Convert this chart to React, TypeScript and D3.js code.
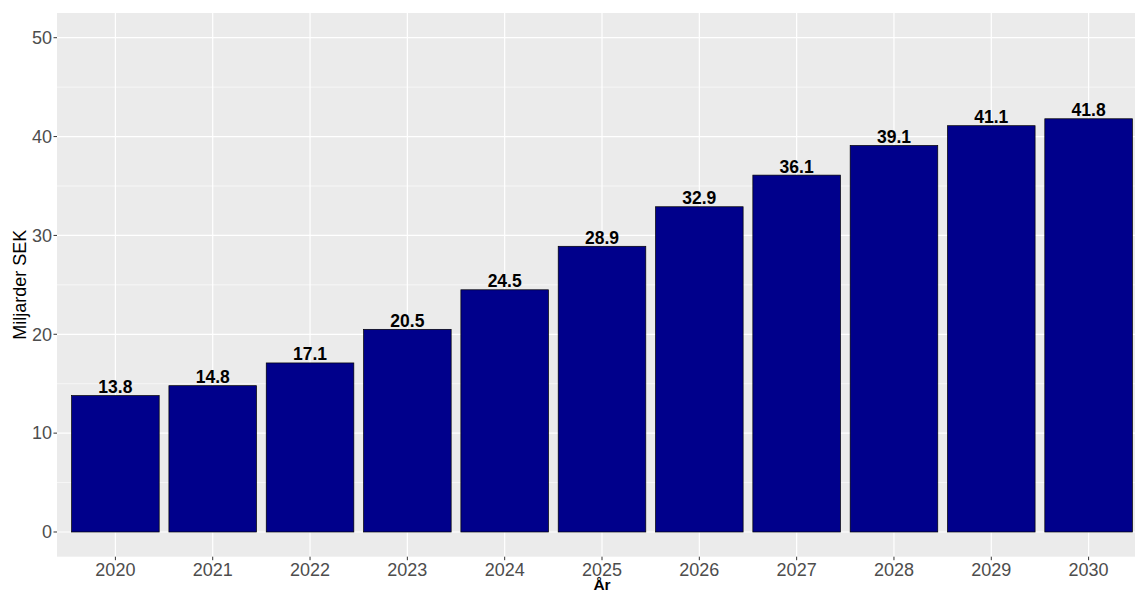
import React from "react";
import * as d3 from "d3";

const years = ["2020", "2021", "2022", "2023", "2024", "2025", "2026", "2027", "2028", "2029", "2030"];
const values = [13.8, 14.8, 17.1, 20.5, 24.5, 28.9, 32.9, 36.1, 39.1, 41.1, 41.8];
const yTicks = [0, 10, 20, 30, 40, 50];
const yMinor = [5, 15, 25, 35, 45];

const W = 1135;
const H = 592;
const panel = { left: 57, right: 1147, top: 13, bottom: 556.7 };

export default function App() {
  const x = d3.scaleLinear().domain([0.4, years.length + 0.6]).range([panel.left, panel.right]);
  const y = d3.scaleLinear().domain([-2.5, 52.5]).range([panel.bottom, panel.top]);
  const bw = x(1.45) - x(1);
  const font = "Liberation Sans, Arial, Helvetica, sans-serif";
  return (
    <svg width={W} height={H} style={{ position: "absolute", left: 0, top: 0 }} fontFamily={font}>
      <rect x={0} y={0} width={W} height={H} fill="#FFFFFF" />
      <rect x={panel.left} y={panel.top} width={panel.right - panel.left} height={panel.bottom - panel.top} fill="#EBEBEB" />
      {yMinor.map((t) => (
        <line key={"mn" + t} x1={panel.left} x2={panel.right} y1={y(t)} y2={y(t)} stroke="#FFFFFF" strokeWidth={0.6} />
      ))}
      {yTicks.map((t) => (
        <line key={"mj" + t} x1={panel.left} x2={panel.right} y1={y(t)} y2={y(t)} stroke="#FFFFFF" strokeWidth={1.2} />
      ))}
      {years.map((yr, i) => (
        <line key={"vx" + yr} x1={x(i + 1)} x2={x(i + 1)} y1={panel.top} y2={panel.bottom} stroke="#FFFFFF" strokeWidth={1.2} />
      ))}
      {values.map((v, i) => (
        <rect
          key={"b" + i}
          x={x(i + 1) - bw}
          y={y(v)}
          width={2 * bw}
          height={y(0) - y(v)}
          fill="#00008B"
          stroke="#000000"
          strokeWidth={0.7}
        />
      ))}
      {values.map((v, i) => (
        <text
          key={"l" + i}
          x={x(i + 1)}
          y={y(v) - 2.5}
          textAnchor="middle"
          fontSize={17.5}
          fontWeight="bold"
          fill="#000000"
        >
          {v.toFixed(1)}
        </text>
      ))}
      {yTicks.map((t) => (
        <g key={"yt" + t}>
          <line x1={panel.left - 3.5} x2={panel.left} y1={y(t)} y2={y(t)} stroke="#333333" strokeWidth={1} />
          <text x={panel.left - 5} y={y(t)} dy="0.35em" textAnchor="end" fontSize={18} fill="#4D4D4D">
            {t}
          </text>
        </g>
      ))}
      {years.map((yr, i) => (
        <g key={"xt" + yr}>
          <line x1={x(i + 1)} x2={x(i + 1)} y1={panel.bottom} y2={panel.bottom + 3.5} stroke="#333333" strokeWidth={1} />
          <text x={x(i + 1)} y={575.7} textAnchor="middle" fontSize={18} fill="#4D4D4D">
            {yr}
          </text>
        </g>
      ))}
      <text x={602} y={589.5} textAnchor="middle" fontSize={15.5} fontWeight="bold" fill="#000000">
        År
      </text>
      <text
        transform={`translate(26, ${(panel.top + panel.bottom) / 2}) rotate(-90)`}
        textAnchor="middle"
        fontSize={18}
        fill="#000000"
      >
        Miljarder SEK
      </text>
    </svg>
  );
}
